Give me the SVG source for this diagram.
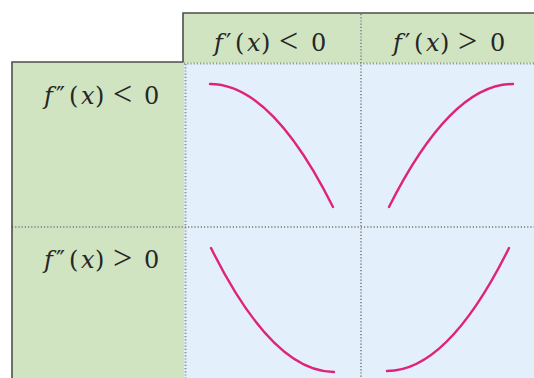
<svg xmlns="http://www.w3.org/2000/svg" width="534" height="378" viewBox="0 0 534 378">
<style>
.green{fill:#d0e4c1}
.blue{fill:#e3f0fb}
.border{fill:none;stroke:#4d4f4c;stroke-width:1.6}
.dot{fill:none;stroke:#8f918f;stroke-width:2;stroke-dasharray:1.2 2}
.curve{fill:none;stroke:#e0237a;stroke-width:2.4;stroke-linecap:round}
.lbl{font-family:'DejaVu Serif','Liberation Serif',serif;font-size:24px;fill:#262626}
.it{font-style:italic}
.op{font-family:'Liberation Serif','DejaVu Serif',serif;font-size:34px}
</style>
<rect width="534" height="378" fill="#ffffff"/>
<g id="background">
<rect class="green" x="183" y="13" width="351" height="50"/>
<rect class="green" x="12" y="62" width="172" height="316"/>
<rect class="blue" x="184" y="63" width="350" height="315"/>
</g>
<g id="grid">
<path class="dot" d="M184,63.5 H534"/>
<path class="dot" d="M12,227 H534"/>
<path class="dot" d="M185.5,64 V378"/>
<path class="dot" d="M361,14 V378"/>
<path class="border" d="M183,62 V13 H534"/>
<path class="border" d="M12,378 V62 H183.5"/>
</g>
<g id="header-fp-neg">
<text class="lbl" y="51"><tspan class="it" x="214">f</tspan><tspan x="226">′</tspan><tspan x="235">(</tspan><tspan class="it" x="247">x</tspan><tspan x="261">)</tspan><tspan class="op" x="279" y="52">&lt;</tspan><tspan x="311" y="51">0</tspan></text>
</g>
<g id="header-fp-pos">
<text class="lbl" y="51"><tspan class="it" x="393">f</tspan><tspan x="405">′</tspan><tspan x="414">(</tspan><tspan class="it" x="426">x</tspan><tspan x="440">)</tspan><tspan class="op" x="458" y="52">&gt;</tspan><tspan x="490" y="51">0</tspan></text>
</g>
<g id="row-fpp-neg">
<text class="lbl" y="104"><tspan class="it" x="44">f</tspan><tspan x="56">″</tspan><tspan x="69">(</tspan><tspan class="it" x="81">x</tspan><tspan x="95">)</tspan><tspan class="op" x="113" y="105">&lt;</tspan><tspan x="144" y="104">0</tspan></text>
</g>
<g id="row-fpp-pos">
<text class="lbl" y="268"><tspan class="it" x="44">f</tspan><tspan x="56">″</tspan><tspan x="69">(</tspan><tspan class="it" x="81">x</tspan><tspan x="95">)</tspan><tspan class="op" x="113" y="269">&gt;</tspan><tspan x="144" y="268">0</tspan></text>
</g>
<g id="curves">
<path class="curve" d="M210,84 Q271.5,84 333,207"/>
<path class="curve" d="M389,207 Q451,84 513,84"/>
<path class="curve" d="M211,248 Q272.5,372 334,372"/>
<path class="curve" d="M387,371 Q448,371 509,248"/>
</g>
</svg>
